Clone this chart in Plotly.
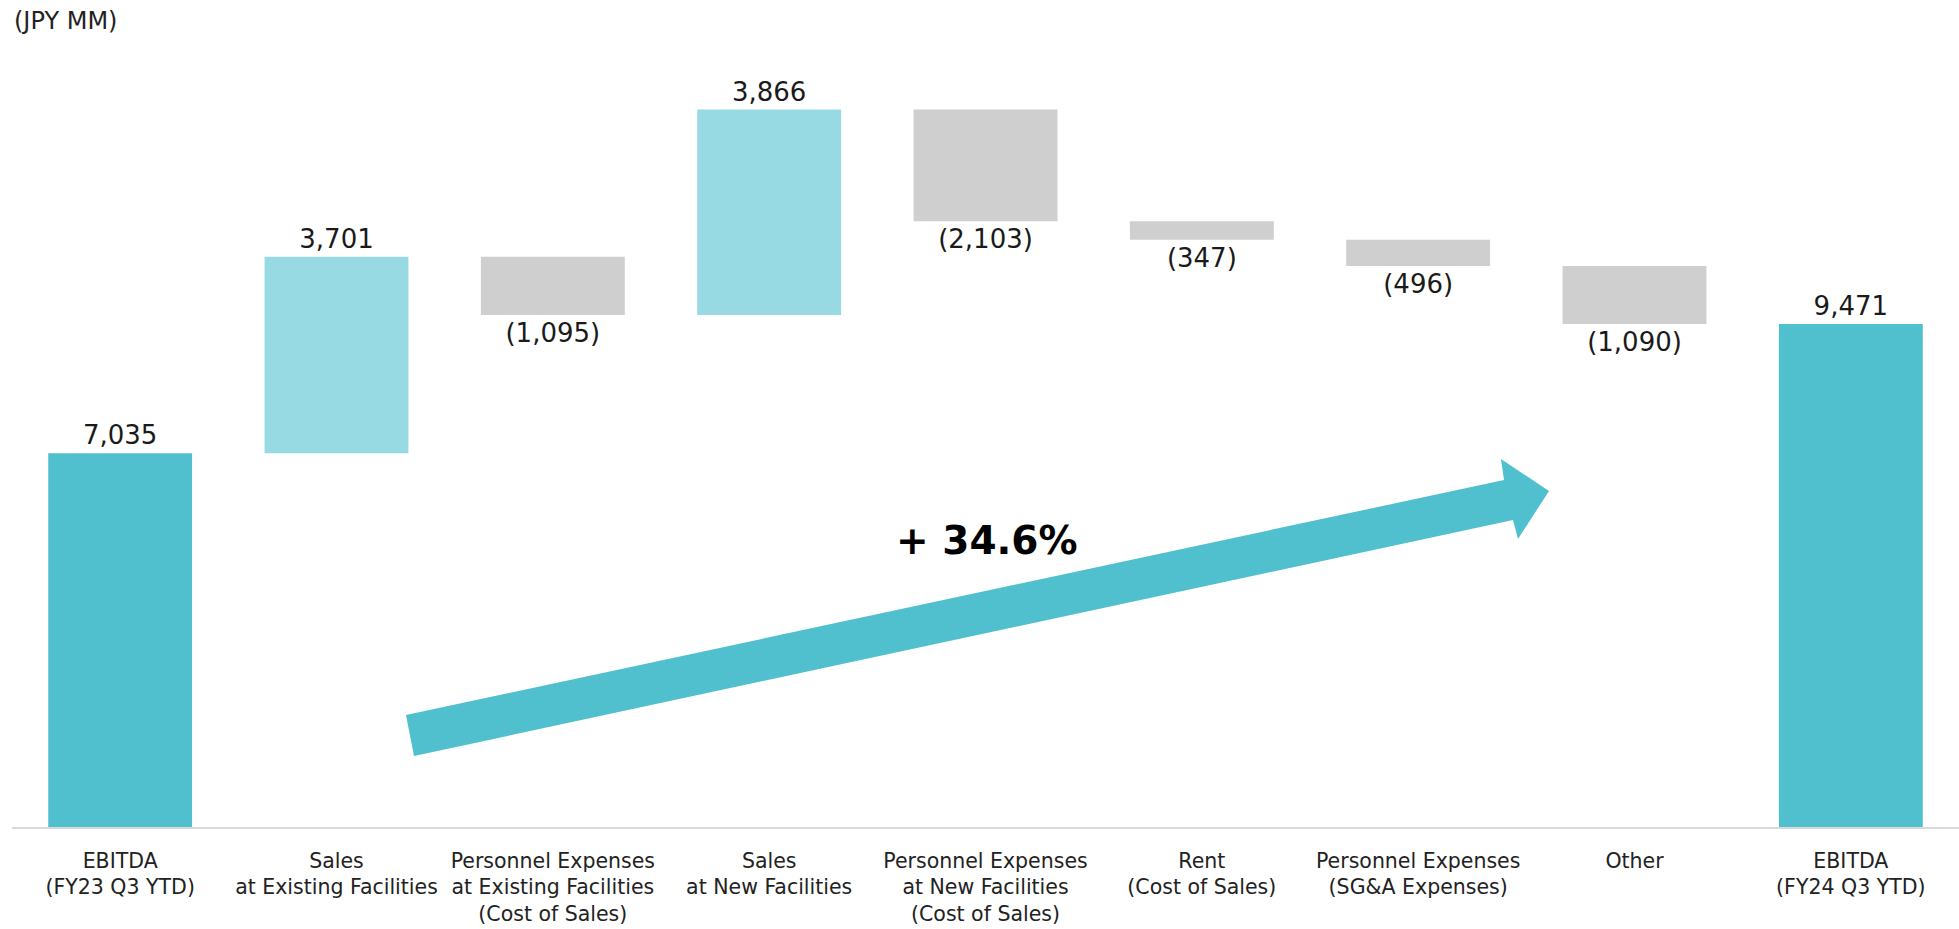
import plotly.graph_objects as go

# ---- data ----
categories = [
    "EBITDA<br>(FY23 Q3 YTD)",
    "Sales<br>at Existing Facilities",
    "Personnel Expenses<br>at Existing Facilities<br>(Cost of Sales)",
    "Sales<br>at New Facilities",
    "Personnel Expenses<br>at New Facilities<br>(Cost of Sales)",
    "Rent<br>(Cost of Sales)",
    "Personnel Expenses<br>(SG&A Expenses)",
    "Other",
    "EBITDA<br>(FY24 Q3 YTD)",
]
values = [7035, 3701, -1095, 3866, -2103, -347, -496, -1090, 9471]
measures = ["absolute", "relative", "relative", "relative", "relative",
            "relative", "relative", "relative", "total"]
value_labels = ["7,035", "3,701", "(1,095)", "3,866", "(2,103)",
                "(347)", "(496)", "(1,090)", "9,471"]
growth_label = "+ 34.6%"
unit_label = "(JPY MM)"

# ---- layout geometry ----
W, H = 1959, 929
ML, MR, MT, MB = 12, 0, 60, 102
PW, PH = W - ML - MR, H - MT - MB

TOTAL_C = "#50BFCE"
INC_C = "#97DAE3"
DEC_C = "#D0CFD0"
FONT = "DejaVu Sans"

fig = go.Figure(go.Waterfall(
    x=categories,
    y=values,
    measure=measures,
    text=value_labels,
    textposition="outside",
    textfont=dict(family=FONT, size=26, color="#1a1a1a"),
    increasing=dict(marker=dict(color=INC_C)),
    decreasing=dict(marker=dict(color=DEC_C)),
    totals=dict(marker=dict(color=TOTAL_C)),
    connector=dict(visible=False),
    cliponaxis=False,
    hoverinfo="skip",
))


def px2paper(px, py):
    return (px - ML) / PW, (H - MB - py) / PH


arrow_px = [(406, 715), (1504, 480), (1501, 459), (1549, 491),
            (1518, 539), (1513, 520), (414, 756)]
pts = [px2paper(a, b) for a, b in arrow_px]
path = "M " + " L ".join(f"{x:.5f},{y:.5f}" for x, y in pts) + " Z"

tx, ty = px2paper(987, 540)
ux, uy = px2paper(12, 21)

fig.update_layout(
    width=W, height=H,
    margin=dict(l=ML, r=MR, t=MT, b=MB, pad=0),
    paper_bgcolor="white", plot_bgcolor="white",
    showlegend=False,
    waterfallgap=0.335,
    font=dict(family=FONT, color="#222222"),
    xaxis=dict(
        showgrid=False, zeroline=False,
        showline=True, linecolor="#D9D9D9", linewidth=2,
        ticks="", tickfont=dict(family=FONT, size=20.5, color="#222222"),
        ticklabelstandoff=14,
        range=[-0.5, 8.5], fixedrange=True,
    ),
    yaxis=dict(
        visible=False, range=[0, 14440], fixedrange=True,
    ),
    shapes=[dict(
        type="path", path=path, xref="paper", yref="paper",
        fillcolor=TOTAL_C, line=dict(width=0), layer="above",
    )],
    annotations=[
        dict(text=f"<b>{growth_label}</b>", x=tx, y=ty, xref="paper", yref="paper",
             xanchor="center", yanchor="middle", showarrow=False,
             font=dict(family=FONT, size=39, color="#000000")),
        dict(text=unit_label, x=ux, y=uy, xref="paper", yref="paper",
             xanchor="left", yanchor="middle", showarrow=False,
             font=dict(family=FONT, size=24, color="#222222")),
    ],
)

fig.write_html("out.html")
